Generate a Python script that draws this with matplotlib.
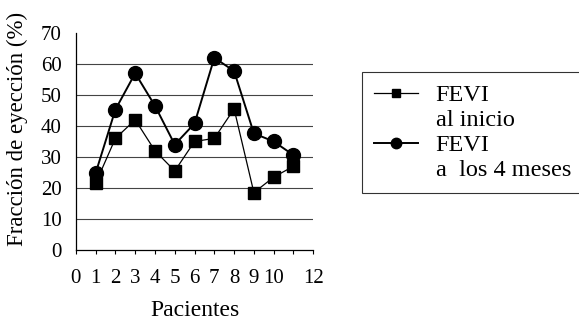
import matplotlib
matplotlib.use("Agg")
import matplotlib.pyplot as plt
from matplotlib.lines import Line2D

pacientes = [1, 2, 3, 4, 5, 6, 7, 8, 9, 10, 11]
fevi_inicio = [21.5, 36, 42, 32, 25.5, 35, 36, 45.5, 18.5, 23.5, 27]
fevi_4_meses = [24.8, 45.3, 57, 46.5, 34, 40.8, 62, 57.7, 37.6, 35, 30.6]
xticks = list(range(0, 13))
xticklabels = ["0", "1", "2", "3", "4", "5", "6", "7", "8", "9", "10", "", "12"]
yticks = [0, 10, 20, 30, 40, 50, 60, 70]

plt.rcParams["font.family"] = ["Liberation Serif", "DejaVu Serif"]

fig = plt.figure(figsize=(5.79, 3.23), dpi=100)
ax = fig.add_axes([0.131, 0.226, 0.41, 0.672])

for y in yticks[1:-1]:
    ax.axhline(y, color="#444444", lw=0.8, zorder=1)

ax.plot(pacientes, fevi_inicio, color="black", lw=0.9, marker="s",
        markersize=8.5, zorder=3)
ax.plot(pacientes, fevi_4_meses, color="black", lw=1.4, marker="o",
        markersize=10, zorder=3)

ax.set_xlim(0, 12)
ax.set_ylim(0, 70)
ax.set_xticks(xticks)
ax.set_xticklabels(xticklabels, fontsize=15)
ax.set_yticks(yticks)
ax.tick_params(axis="y", labelsize=15, length=0, pad=10)
ax.tick_params(axis="x", length=3, width=0.8, direction="out", pad=11)
for s in ("top", "right"):
    ax.spines[s].set_visible(False)
ax.spines["left"].set_linewidth(0.9)
ax.spines["bottom"].set_linewidth(0.9)

ax.set_xlabel("Pacientes", fontsize=17, labelpad=8)
ax.set_ylabel("Fracción de eyección (%)", fontsize=16.5)
ax.yaxis.set_label_coords(-0.20, 0.56)

# legend: marker handle beside the first line of each two-line label;
# the frame runs past the right edge of the figure
blank = Line2D([], [], linestyle="none", marker="none")
h1 = Line2D([], [], color="black", lw=0.9, marker="s", markersize=6)
h2 = Line2D([], [], color="black", lw=1.4, marker="o", markersize=7.5)
leg = fig.legend([h1, blank, h2, blank],
                 ["FEVI", "al inicio", "FEVI", "a  los 4 meses"],
                 loc="upper left", bbox_to_anchor=(0.625, 0.3, 0.40, 0.477),
                 mode="expand",
                 borderaxespad=0, fontsize=17.5, frameon=True, fancybox=False,
                 edgecolor="black", handlelength=1.8, handletextpad=0.74,
                 borderpad=0.5, labelspacing=0.12)
leg.get_frame().set_linewidth(0.8)

fig.savefig("out.png", dpi=100)
